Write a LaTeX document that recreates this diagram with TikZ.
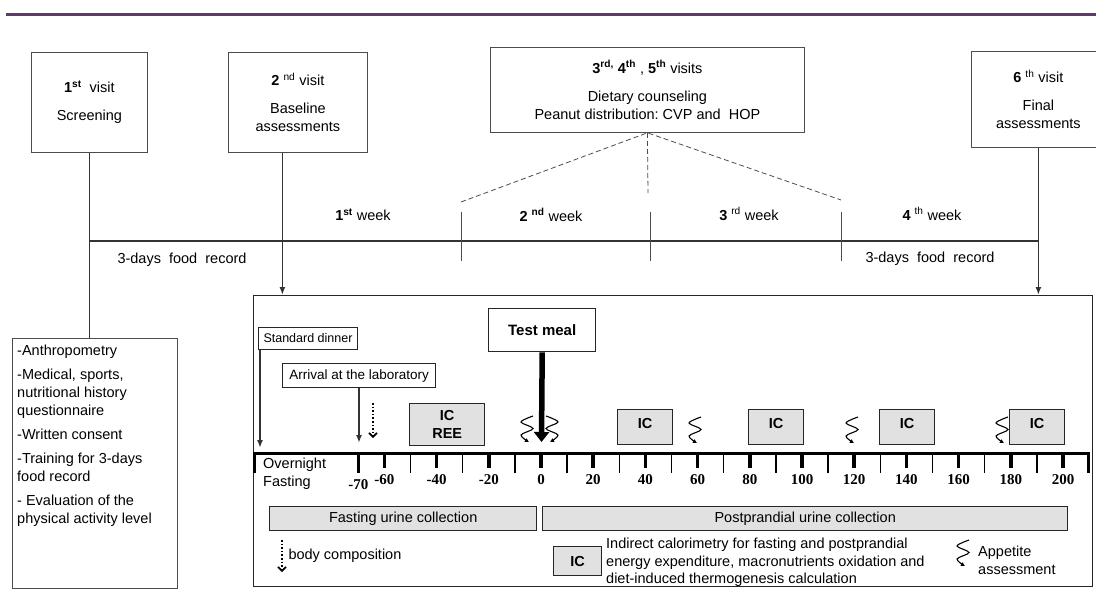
\documentclass[tikz,border=0pt]{standalone}
\usepackage{fontspec}
\setmainfont{Liberation Sans}
\newfontfamily\numfont{Liberation Serif}
\usetikzlibrary{arrows.meta,positioning}
\definecolor{plum}{RGB}{94,58,112}
\definecolor{boxgray}{RGB}{225,225,225}

\begin{document}
\begin{tikzpicture}[x=1pt,y=-1pt,
    every node/.style={font=\fontsize{14.5}{18}\selectfont},
    visit/.style={draw=black!70,line width=0.8pt,anchor=north west,align=center,inner sep=0pt},
    frame/.style={draw=black!85,line width=1.2pt,anchor=north west,inner sep=1pt},
    grey/.style={frame,fill=boxgray,line width=1.4pt,font=\fontsize{14.5}{18}\selectfont\bfseries},
    tline/.style={draw=black!80,line width=1.6pt},
    tarrow/.style={tline,-{Latex[length=8pt,width=6pt]}},
    dotarrow/.style={line width=1.6pt,dotted,-{Straight Barb[length=4pt,width=8pt]}},
    guide/.style={dash pattern=on 5pt off 3pt,black!70,line width=0.8pt},
    bigtick/.style={line width=3.5pt},
    smalltick/.style={line width=1.5pt},
    tickno/.style={font=\numfont\fontsize{15}{17}\selectfont\bfseries,below=1pt},
    appetite/.pic={\draw[line width=1.1pt,-{Latex[length=4pt,width=4.5pt]}]
        plot[smooth,tension=0.55] coordinates {(6,0) (-6,6) (6,12.5) (-6,19) (2,26)};}
  ]
  \useasboundingbox (0,0) rectangle (1096,603);
  \clip (0,0) rectangle (1096,603);
  \draw[plum,line width=3pt] (6,14) -- (1096,14);

  \node[visit,minimum width=116pt,minimum height=100pt] (v1) at (31,52)
    {\textbf{1}\textsuperscript{\textbf{st}}\ \ visit\\[10pt]Screening};
  \node[visit,minimum width=139pt,minimum height=100pt] (v2) at (228,52)
    {\textbf{2} \textsuperscript{nd} visit\\[10pt]Baseline\\assessments};
  \node[visit,minimum width=314pt,minimum height=85pt] (v35) at (490,47)
    {\textbf{3}\textsuperscript{\textbf{rd,}} \textbf{4}\textsuperscript{\textbf{th}} , \textbf{5}\textsuperscript{\textbf{th}} visits\\[10pt]Dietary counseling\\Peanut distribution:\ CVP and\ \ HOP};
  \node[visit,minimum width=134pt,minimum height=96pt] (v6) at (971,51)
    {\textbf{6} \textsuperscript{th} visit\\[10pt]Final\\assessments};

  \node[visit,minimum width=165pt,minimum height=250pt] (tasks) at (12,338) {};
  \node[anchor=north west,align=left,inner sep=0pt] (tasklist) at (17,345)
    {-Anthropometry\\[6pt]-Medical, sports,\\nutritional\ history\\questionnaire\\[6pt]-Written consent\\[6pt]-Training for 3-days\\food record\\[6pt]- Evaluation of the\\physical activity\ level};

  \node[frame,minimum width=839pt,minimum height=291pt] (day) at (253,295) {};

  \coordinate (mid) at (0,241);
  \draw[tline] (v1.south) -- (v1.south |- tasks.north);
  \draw[tline] (v1.south |- mid) -- (v6.south |- mid);
  \draw[tarrow] ([xshift=-15.5pt]v2.south) -- ([xshift=-15.5pt]v2.south |- day.north);
  \draw[tarrow] (v6.south) -- (v6.south |- day.north);

  \foreach \x in {461,650,841}
    \draw[black!70,line width=0.8pt] (\x,212) -- (\x,261);
  \coordinate (d1) at (461,202);
  \coordinate (d2) at (648,193);
  \coordinate (d3) at (841,200);
  \draw[guide] (d1) -- (v35.south) -- (d3);
  \draw[guide] (v35.south) -- (d2);

  \node (wk1) at (363,215) {\textbf{1}\textsuperscript{\textbf{st}} week};
  \node (wk2) at (551,215) {\textbf{2} \textsuperscript{\textbf{nd}} week};
  \node (wk3) at (749,214) {\textbf{3} \textsuperscript{rd} week};
  \node (wk4) at (932,214) {\textbf{4} \textsuperscript{th} week};
  \node (rec1) at (182,260) {3-days\ \ food\ \ record};
  \node (rec2) at (930,259) {3-days\ \ food\ \ record};

  \node[frame,line width=1pt,minimum width=99pt,minimum height=22pt,font=\fontsize{12.5}{14}\selectfont] (dinner) at (258,327) {Standard dinner};
  \node[frame,minimum width=153pt,minimum height=24pt,font=\fontsize{13.5}{16}\selectfont] (arrival) at (282,363) {Arrival at the laboratory};
  \node[frame,line width=1.4pt,minimum width=107pt,minimum height=43pt,font=\fontsize{15}{18}\selectfont\bfseries] (meal) at (488,308) {Test meal};
  \coordinate (dinnerend) at (260,448);
  \coordinate (arrivalend) at (359,443);
  \coordinate (mealend) at (541.5,442);
  \draw[tarrow] ([xshift=2pt]dinner.south west) -- (dinnerend);
  \draw[tarrow] ([xshift=77pt]arrival.south west) -- (arrivalend);
  \coordinate (bc1) at (373,403);
  \coordinate (bc2) at (373,438);
  \draw[dotarrow] (bc1) -- (bc2);

  \node[grey,minimum width=75pt,minimum height=42pt,align=center] (icree) at (409,403) {IC\\REE};
  \foreach \x/\n in {617/ic1,748/ic2,879/ic3,1009/ic4}
    \node[grey,minimum width=55pt,minimum height=35pt,text depth=8pt] (\n) at (\x,409) {IC};

  \pic at (527,416) {appetite};
  \pic[xscale=-1] at (552,416) {appetite};
  \pic at (695,417) {appetite};
  \pic at (852,417) {appetite};
  \pic at (1002,417) {appetite};
  \draw[line width=5.5pt,-{Triangle[length=10pt,width=15pt]}] (meal.south) -- (mealend);

  \draw[line width=3pt] (253,453) -- (1090,453);
  \draw[line width=3.5pt] (254.5,453) -- (254.5,473);
  \draw[line width=3pt] (1088,453) -- (1088,473);
  \draw[bigtick] ({541-2.61*70},453) -- ++(0,20) node[tickno] (tick-70) {-70};
  \foreach \t in {-60,-40,...,200}
    \draw[bigtick] ({541+2.61*\t},453) -- ++(0,15) node[tickno] (tick\t) {\t};
  \foreach \t in {-50,-30,...,190}
    \draw[smalltick] ({541+2.61*\t},453) -- ++(0,20);
  \node[anchor=north west,align=left,inner sep=0pt] (fast) at (263,458) {Overnight\\Fasting};

  \node[grey,font=\fontsize{14.5}{18}\selectfont,minimum width=267pt,minimum height=24pt] (furine) at (269,506) {Fasting urine collection};
  \node[grey,font=\fontsize{14.5}{18}\selectfont,minimum width=525pt,minimum height=24pt] (purine) at (542,506) {Postprandial urine collection};

  \coordinate (bl1) at (282,540);
  \coordinate (bl2) at (282,572);
  \draw[dotarrow] (bl1) -- (bl2);
  \node[anchor=west] (bodycomp) at (285,556) {body composition};
  \node[grey,minimum width=48pt,minimum height=29pt] (iclegend) at (553,546) {IC};
  \node[anchor=north west,align=left,inner sep=0pt,font=\fontsize{14.5}{17.5}\selectfont] (icnote) at (606,538)
    {Indirect calorimetry for fasting and postprandial\\energy expenditure, macronutrients oxidation and\\diet-induced thermogenesis calculation};
  \pic at (963,540) {appetite};
  \node[anchor=north west,align=left,inner sep=0pt] (apnote) at (978,546) {Appetite\\assessment};
\end{tikzpicture}
\end{document}
